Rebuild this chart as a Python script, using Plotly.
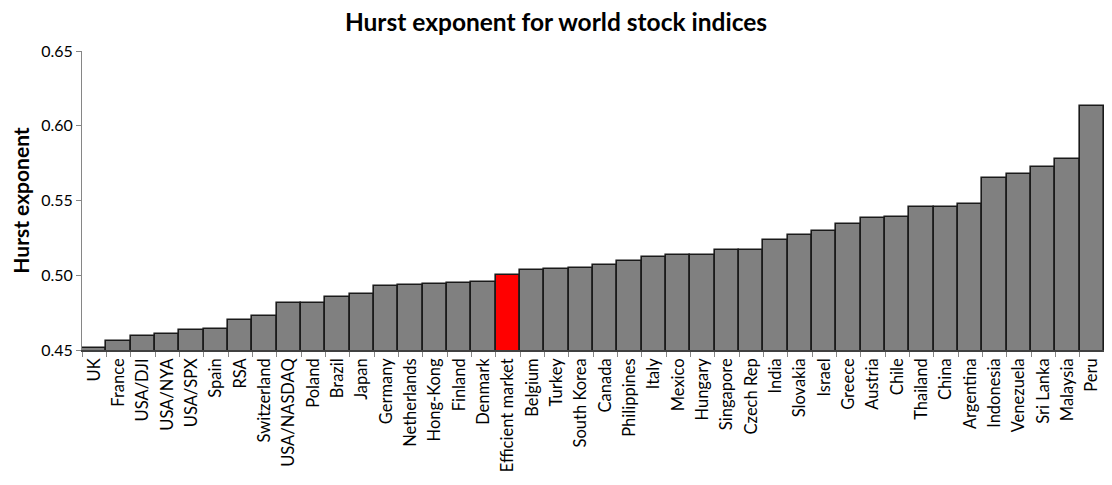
import plotly.graph_objects as go

categories = ["UK", "France", "USA/DJI", "USA/NYA", "USA/SPX", "Spain", "RSA", "Switzerland",
              "USA/NASDAQ", "Poland", "Brazil", "Japan", "Germany", "Netherlands", "Hong-Kong",
              "Finland", "Denmark", "Efficient market", "Belgium", "Turkey", "South Korea",
              "Canada", "Philippines", "Italy", "Mexico", "Hungary", "Singapore", "Czech Rep",
              "India", "Slovakia", "Israel", "Greece", "Austria", "Chile", "Thailand", "China",
              "Argentina", "Indonesia", "Venezuela", "Sri Lanka", "Malaysia", "Peru"]

hurst = [0.4515, 0.4557, 0.4592, 0.4605, 0.4637, 0.4643, 0.4701, 0.4730,
         0.4815, 0.4815, 0.4852, 0.4872, 0.4925, 0.4932, 0.4941,
         0.4945, 0.4952, 0.5000, 0.5037, 0.5043, 0.5050,
         0.5068, 0.5097, 0.5121, 0.5135, 0.5135, 0.5168, 0.5170,
         0.5235, 0.5270, 0.5297, 0.5343, 0.5383, 0.5390, 0.5455, 0.5459,
         0.5479, 0.5652, 0.5675, 0.5725, 0.5779, 0.6135]

highlight = "Efficient market"
colors = ["#FF0000" if c == highlight else "#808080" for c in categories]

fig = go.Figure(go.Bar(
    x=categories,
    y=hurst,
    marker=dict(color=colors, line=dict(color="#1a1a1a", width=1.6)),
    hoverinfo="x+y",
))

# the page body adds an 8px margin; keep the figure inside the window
fig.update_layout(
    width=1096, height=469,
    margin=dict(l=74, r=0, t=43, b=127, autoexpand=False),
    paper_bgcolor="white", plot_bgcolor="white",
    bargap=0,
    showlegend=False,
    font=dict(family="Lato, Open Sans, sans-serif", size=17, color="black"),
    title=dict(text="<b>Hurst exponent for world stock indices</b>",
               x=0.5, xanchor="center", y=0.988, yanchor="top",
               pad=dict(t=0, b=0),
               font=dict(size=24.5, color="black")),
)

fig.update_xaxes(
    type="category",
    tickangle=-90,
    tickson="boundaries",
    ticks="outside", ticklen=5, tickcolor="#868686",
    showline=True, linecolor="#404040", linewidth=1.5,
    showgrid=False,
    tickfont=dict(size=16.5),
    automargin=False,
)

fig.update_yaxes(
    range=[0.45, 0.65],
    dtick=0.05, tick0=0.45,
    tickformat=".2f",
    ticks="outside", ticklen=5, tickcolor="#868686",
    showline=True, linecolor="#868686", linewidth=1,
    showgrid=False, zeroline=False,
    tickfont=dict(size=16),
    title=dict(text="<b>Hurst exponent</b>", font=dict(size=21), standoff=16),
    automargin=False,
)

fig.write_html("out.html")
